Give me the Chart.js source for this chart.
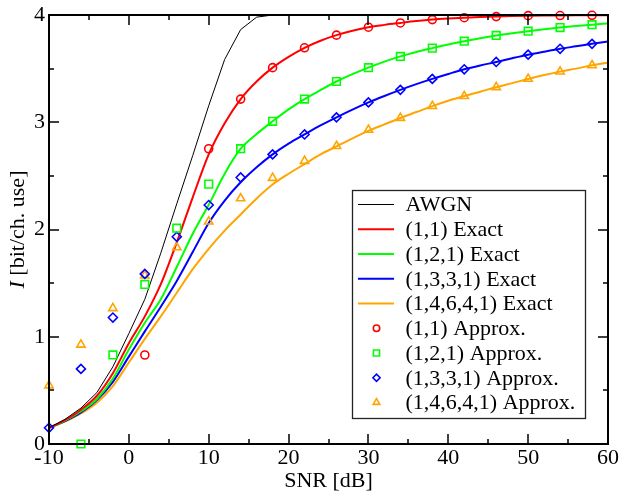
<!DOCTYPE html>
<html>
<head>
<meta charset="utf-8">
<script src="https://cdn.jsdelivr.net/npm/chart.js@4.4.1/dist/chart.umd.min.js"></script>
<style>
  html, body { margin: 0; padding: 0; background: #fff; }
  #wrap { width: 622px; height: 496px; }
</style>
</head>
<body>
<div id="wrap"><canvas id="c" width="622" height="496"></canvas></div>
<script>
// SNR grid (dB) for the exact curves
const snrGrid = [-10,-8,-6,-4,-2,0,2,4,6,8,10,12,14,16,18,20,22,24,26,28,30,32,34,36,38,40,42,44,46,48,50,52,54,56,58,60];

// mutual information, bit per channel use
const awgn      = [0.151,0.23,0.335,0.48,0.72,1.03,1.35,1.78,2.24,2.69,3.154,3.586,3.864,3.98,4.0,4.0,4.0,4.0,4.0,4.0,4.0,4.0,4.0,4.0,4.0,4.0,4.0,4.0,4.0,4.0,4.0,4.0,4.0,4.0,4.0,4.0];
const exact11   = [0.151,0.222,0.32,0.45,0.66,0.94,1.19,1.49,1.88,2.30,2.70,2.99,3.216,3.38,3.509,3.61,3.694,3.76,3.812,3.853,3.886,3.908,3.926,3.943,3.957,3.967,3.975,3.981,3.986,3.990,3.993,3.995,3.996,3.997,3.998,3.998];
const exact121  = [0.151,0.218,0.305,0.42,0.61,0.88,1.13,1.35,1.65,1.96,2.23,2.52,2.753,2.89,3.009,3.12,3.216,3.30,3.38,3.448,3.509,3.565,3.614,3.655,3.691,3.725,3.756,3.784,3.809,3.830,3.849,3.867,3.883,3.897,3.910,3.921];
const exact1331 = [0.151,0.214,0.295,0.41,0.58,0.815,1.05,1.28,1.52,1.79,2.06,2.27,2.44,2.58,2.70,2.80,2.886,2.97,3.046,3.118,3.185,3.245,3.302,3.355,3.404,3.45,3.494,3.53,3.562,3.597,3.630,3.658,3.685,3.708,3.731,3.752];
const exact14641= [0.151,0.208,0.285,0.385,0.54,0.76,0.98,1.19,1.41,1.63,1.82,1.99,2.14,2.29,2.42,2.52,2.61,2.70,2.775,2.85,2.92,2.98,3.04,3.095,3.15,3.20,3.244,3.285,3.327,3.365,3.404,3.44,3.472,3.50,3.531,3.556];

// SNR points (dB) of the approximations
const snrApprox = [-10,-6,-2,2,6,10,14,18,22,26,30,34,38,42,46,50,54,58];
const approx11   = [null,null,null,0.83,null,2.753,3.216,3.509,3.694,3.812,3.886,3.926,3.957,3.975,3.985,3.994,3.995,3.997];
const approx121  = [null,0,0.83,1.488,2.012,2.423,2.753,3.009,3.216,3.380,3.509,3.614,3.691,3.756,3.809,3.849,3.883,3.910];
const approx1331 = [0.151,0.70,1.179,1.586,1.932,2.228,2.485,2.70,2.886,3.046,3.185,3.302,3.404,3.494,3.562,3.630,3.685,3.731];
const approx14641= [0.546,0.926,1.266,1.571,1.833,2.074,2.29,2.48,2.639,2.778,2.929,3.04,3.151,3.244,3.327,3.404,3.472,3.531];

// axis ranges and tick steps
const xRange = [-10, 60], xStep = 10;
const yRange = [0, 4], yStep = 1;

const SERIF = '"Liberation Serif", "Times New Roman", serif';
const pts = (xs, ys) => xs.map((x, i) => ({ x, y: ys[i] }));

function lineSet(label, color, ys, width, smooth) {
  return { label, data: pts(snrGrid, ys), borderColor: color, backgroundColor: color,
           borderWidth: width, pointRadius: 0, showLine: true, fill: false,
           cubicInterpolationMode: smooth ? 'monotone' : 'default', tension: 0, order: 2 };
}
function markSet(label, color, ys, style, r) {
  return { label, data: pts(snrApprox, ys), borderColor: color, backgroundColor: 'rgba(0,0,0,0)',
           pointStyle: style, pointRadius: r, pointBorderWidth: 1.6, showLine: false,
           clip: false, order: 1 };
}

const datasets = [
  lineSet('AWGN', '#000000', awgn, 1, false),
  lineSet('(1,1) Exact', '#ff0000', exact11, 2, true),
  lineSet('(1,2,1) Exact', '#00ff00', exact121, 2, true),
  lineSet('(1,3,3,1) Exact', '#0000ff', exact1331, 2, true),
  lineSet('(1,4,6,4,1) Exact', '#ffa500', exact14641, 2, true),
  markSet('(1,1) Approx.', '#ff0000', approx11, 'circle', 4),
  markSet('(1,2,1) Approx.', '#00ff00', approx121, 'rect', 5.4),
  markSet('(1,3,3,1) Approx.', '#0000ff', approx1331, 'rectRot', 4.5),
  markSet('(1,4,6,4,1) Approx.', '#ffa500', approx14641, 'triangle', 4.8)
];

// frame with inward major/minor ticks on all four sides
const frameTicks = {
  id: 'frameTicks',
  afterDatasetsDraw(chart) {
    const { ctx, chartArea: a, scales } = chart;
    ctx.save();
    ctx.strokeStyle = '#000';
    ctx.lineWidth = 2;
    ctx.strokeRect(a.left, a.top, a.right - a.left, a.bottom - a.top);
    ctx.lineWidth = 1.5;
    const marks = (scale, horizontal) => {
      const major = scale.ticks.map(t => t.value);
      const step = (major[1] - major[0]) / 2;
      for (let v = scale.min; v <= scale.max + 1e-9; v += step) {
        const len = major.some(m => Math.abs(m - v) < 1e-9) ? 10 : 5;
        const p = Math.round(scale.getPixelForValue(v));
        ctx.beginPath();
        if (horizontal) {
          ctx.moveTo(p, a.bottom); ctx.lineTo(p, a.bottom - len);
          ctx.moveTo(p, a.top); ctx.lineTo(p, a.top + len);
        } else {
          ctx.moveTo(a.left, p); ctx.lineTo(a.left + len, p);
          ctx.moveTo(a.right, p); ctx.lineTo(a.right - len, p);
        }
        ctx.stroke();
      }
    };
    marks(scales.x, true);
    marks(scales.y, false);
    ctx.restore();
  }
};

// axis titles: "SNR [dB]" and italic I followed by the unit
const axisTitles = {
  id: 'axisTitles',
  afterDraw(chart) {
    const { ctx, chartArea: a } = chart;
    ctx.save();
    ctx.fillStyle = '#000';
    ctx.font = '22px ' + SERIF;
    ctx.textAlign = 'center';
    ctx.textBaseline = 'middle';
    ctx.fillText('SNR [dB]', (a.left + a.right) / 2, 481);

    const italic = 'italic 22px ' + SERIF, upright = '22px ' + SERIF;
    ctx.font = italic; const w1 = ctx.measureText('I').width;
    ctx.font = upright; const w2 = ctx.measureText(' [bit/ch. use]').width;
    const cy = (a.top + a.bottom) / 2;
    ctx.translate(24, cy);
    ctx.rotate(-Math.PI / 2);
    ctx.textAlign = 'left';
    ctx.textBaseline = 'alphabetic';
    const start = -(w1 + w2) / 2;
    ctx.font = italic; ctx.fillText('I', start, 0);
    ctx.font = upright; ctx.fillText(' [bit/ch. use]', start + w1, 0);
    ctx.restore();
  }
};

// boxed legend inside the plot area
const boxLegend = {
  id: 'boxLegend',
  afterDraw(chart) {
    const { ctx } = chart;
    const box = { x: 352.5, y: 190.5, w: 233, h: 228 };
    ctx.save();
    ctx.fillStyle = '#fff';
    ctx.fillRect(box.x, box.y, box.w, box.h);
    ctx.strokeStyle = '#222';
    ctx.lineWidth = 1.3;
    ctx.strokeRect(box.x, box.y, box.w, box.h);
    ctx.font = '22px ' + SERIF;
    ctx.textBaseline = 'middle';
    ctx.textAlign = 'left';
    chart.data.datasets.forEach((ds, i) => {
      const yy = 204.5 + i * 24.75;
      if (ds.showLine) {
        ctx.strokeStyle = ds.borderColor;
        ctx.lineWidth = ds.borderWidth;
        ctx.beginPath(); ctx.moveTo(358, yy); ctx.lineTo(394, yy); ctx.stroke();
      } else {
        ctx.fillStyle = 'rgba(0,0,0,0)';
        ctx.strokeStyle = ds.borderColor;
        ctx.lineWidth = ds.pointBorderWidth;
        Chart.helpers.drawPoint(ctx, { pointStyle: ds.pointStyle, radius: ds.pointRadius * 0.8,
          borderWidth: ds.pointBorderWidth, rotation: 0 }, 376.5, yy);
      }
      ctx.fillStyle = '#000';
      ctx.fillText(ds.label, 405.5, yy + 1);
    });
    ctx.restore();
  }
};

const tickFont = { family: SERIF, size: 22, lineHeight: 1 };

new Chart(document.getElementById('c'), {
  type: 'scatter',
  data: { datasets },
  options: {
    responsive: false,
    animation: false,
    devicePixelRatio: 1,
    layout: { padding: { left: 0, right: 13, top: 12, bottom: 0 } },
    plugins: { legend: { display: false }, tooltip: { enabled: false } },
    scales: {
      x: {
        type: 'linear', min: xRange[0], max: xRange[1],
        grid: { display: false, drawTicks: false }, border: { display: false },
        ticks: { stepSize: xStep, font: tickFont, color: '#000', padding: 3, maxRotation: 0 },
        afterFit: s => { s.height = 52; }
      },
      y: {
        type: 'linear', min: yRange[0], max: yRange[1],
        grid: { display: false, drawTicks: false }, border: { display: false },
        ticks: { stepSize: yStep, font: tickFont, color: '#000', padding: 4 },
        afterFit: s => { s.width = 49; }
      }
    }
  },
  plugins: [frameTicks, axisTitles, boxLegend]
});
</script>
</body>
</html>
